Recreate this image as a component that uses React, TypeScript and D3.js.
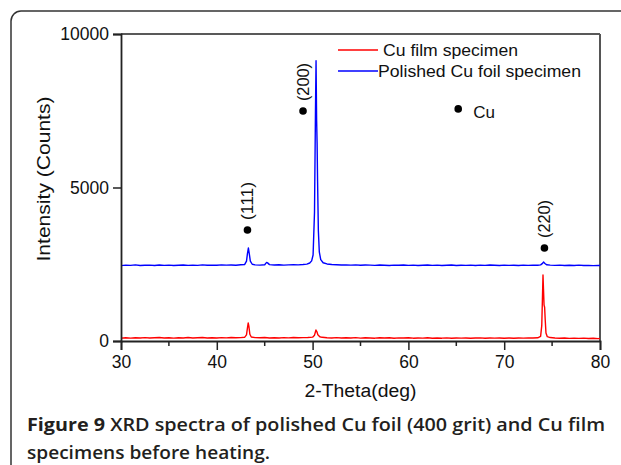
import React, { useEffect, useRef } from "react";
import * as d3 from "d3";

// Cu film specimen (red)
const filmTheta = [
  30, 30.5, 31, 31.5, 32, 32.5, 33, 33.5, 34, 34.5, 35, 35.5, 36, 36.5, 37, 37.5, 38, 38.5, 39, 39.5,
  40, 40.5, 41, 41.5, 42, 42.5, 42.9, 43.1, 43.2, 43.28, 43.35, 43.45, 43.6, 44, 44.5, 45, 45.5, 46,
  46.5, 47, 47.5, 48, 48.5, 49, 49.5, 50, 50.2, 50.35, 50.45, 50.55, 50.75, 51, 51.5, 52, 52.5, 53,
  53.5, 54, 54.5, 55, 55.5, 56, 56.5, 57, 57.5, 58, 58.5, 59, 59.5, 60, 60.5, 61, 61.5, 62, 62.5, 63,
  63.5, 64, 64.5, 65, 65.5, 66, 66.5, 67, 67.5, 68, 68.5, 69, 69.5, 70, 70.5, 71, 71.5, 72, 72.5, 73,
  73.5, 73.8, 73.92, 74.0, 74.05, 74.1, 74.16, 74.22, 74.28, 74.36, 74.5, 74.8, 75.3, 75.8, 76.3,
  76.8, 77.3, 77.8, 78.3, 78.8, 79.3, 79.8, 80,
];
const filmCounts = [
  95, 105, 92, 108, 98, 110, 96, 104, 112, 98, 106, 94, 108, 100, 112, 98, 106, 114, 100, 108,
  96, 110, 102, 114, 104, 110, 120, 200, 430, 590, 480, 220, 130, 110, 104, 112, 100, 108,
  98, 110, 102, 112, 104, 110, 114, 125, 190, 360, 300, 200, 140, 120, 108, 100, 110, 96,
  106, 98, 110, 94, 104, 100, 92, 106, 98, 104, 90, 102, 96, 106, 92, 100, 94, 104, 90, 98,
  92, 102, 88, 98, 94, 100, 88, 96, 102, 90, 98, 94, 100, 88, 96, 92, 100, 94, 102, 96,
  104, 150, 500, 1500, 2150, 1700, 1170, 1100, 700, 260, 140, 112, 100, 92, 98,
  86, 94, 84, 92, 80, 88, 78, 82,
];

// Polished Cu foil specimen (blue)
const foilTheta = [
  30, 30.5, 31, 31.5, 32, 32.5, 33, 33.5, 34, 34.5, 35, 35.5, 36, 36.5, 37, 37.5, 38, 38.5, 39, 39.5,
  40, 40.5, 41, 41.5, 42, 42.5, 42.9, 43.1, 43.2, 43.3, 43.4, 43.5, 43.7, 44, 44.5, 45, 45.2, 45.3,
  45.5, 46, 46.5, 47, 47.5, 48, 48.5, 49, 49.4, 49.7, 49.9, 50.05, 50.2, 50.3, 50.36, 50.42, 50.47,
  50.52, 50.6, 50.7, 50.85, 51.1, 51.5, 52, 52.5, 53, 53.5, 54, 54.5, 55, 55.5, 56, 56.5, 57, 57.5,
  58, 58.5, 59, 59.5, 60, 60.5, 61, 61.5, 62, 62.5, 63, 63.5, 64, 64.5, 65, 65.5, 66, 66.5, 67, 67.5,
  68, 68.5, 69, 69.5, 70, 70.5, 71, 71.5, 72, 72.5, 73, 73.5, 73.8, 74.0, 74.12, 74.25, 74.45, 74.8,
  75.3, 75.8, 76.3, 76.8, 77.3, 77.8, 78.3, 78.8, 79.3, 79.8, 80,
];
const foilCounts = [
  2455, 2470, 2462, 2478, 2458, 2466, 2472, 2460, 2475, 2463, 2470, 2458, 2468, 2476, 2462, 2470, 2465, 2478, 2468, 2472,
  2466, 2480, 2470, 2475, 2468, 2482, 2490, 2600, 2850, 3030, 2820, 2600, 2500, 2478, 2470, 2485, 2560, 2545,
  2488, 2475, 2482, 2470, 2478, 2485, 2480, 2492, 2505, 2540, 2610, 2800, 4200, 7500, 9130, 7200, 6450,
  5200, 3600, 2900, 2650, 2550, 2510, 2490, 2482, 2475, 2480, 2470, 2478, 2466, 2475, 2470, 2462, 2474, 2468,
  2460, 2472, 2466, 2476, 2462, 2470, 2458, 2468, 2474, 2462, 2470, 2458, 2466, 2475, 2460, 2468, 2464, 2472, 2460, 2470,
  2462, 2474, 2466, 2460, 2472, 2462, 2468, 2458, 2470, 2464, 2472, 2466, 2480, 2530, 2570, 2525, 2482, 2470,
  2462, 2470, 2458, 2466, 2460, 2470, 2458, 2464, 2456, 2462, 2458,
];

const seriesNames = ["Cu film specimen", "Polished Cu foil specimen"];
const seriesColors = ["#ff0000", "#0000ff"];

// Cu reflections
const peakLabels = ["(111)", "(200)", "(220)"];
const peakTheta = [43.2, 49.0, 74.2];
const peakMarkCounts = [3615, 7490, 3030];

const xTicks = [30, 40, 50, 60, 70, 80];
const xMinorTicks = [35, 45, 55, 65, 75];
const yTicks = [0, 5000, 10000];

const FONT = "'Liberation Sans', Arial, sans-serif";

const drawChart = (svgEl: SVGSVGElement) => {
  const svg = d3.select(svgEl);
  svg.selectAll("*").remove();

  const marginLeft = 121;
  const plotRight = 600;
  const plotTop = 34;
  const plotBottom = 341;

  const x = d3.scaleLinear().domain([30, 80]).range([marginLeft, plotRight]);
  const y = d3.scaleLinear().domain([0, 10000]).range([plotBottom, plotTop]);

  // outer figure box
  svg
    .append("rect")
    .attr("x", 11)
    .attr("y", 11)
    .attr("width", 700)
    .attr("height", 600)
    .attr("rx", 10)
    .attr("fill", "none")
    .attr("stroke", "#333")
    .attr("stroke-width", 1.5);

  // frame top + right
  svg
    .append("line")
    .attr("x1", marginLeft)
    .attr("x2", plotRight)
    .attr("y1", plotTop)
    .attr("y2", plotTop)
    .attr("stroke", "#222")
    .attr("stroke-width", 1.5);
  svg
    .append("line")
    .attr("x1", plotRight)
    .attr("x2", plotRight)
    .attr("y1", plotTop)
    .attr("y2", plotBottom)
    .attr("stroke", "#555")
    .attr("stroke-width", 2);

  const line = d3
    .line<[number, number]>()
    .x((d) => x(d[0]))
    .y((d) => y(d[1]));

  const film = filmTheta.map((t, i) => [t, filmCounts[i]] as [number, number]);
  const foil = foilTheta.map((t, i) => [t, foilCounts[i]] as [number, number]);

  [film, foil].forEach((data, i) => {
    svg
      .append("path")
      .datum(data)
      .attr("d", line)
      .attr("fill", "none")
      .attr("stroke", seriesColors[i])
      .attr("stroke-width", 1.4)
      .attr("stroke-linejoin", "round");
  });

  // x-axis
  const gx = svg
    .append("g")
    .attr("transform", `translate(0,${plotBottom})`)
    .call(
      d3
        .axisBottom(x)
        .tickValues(xTicks)
        .tickSize(9)
        .tickPadding(6)
        .tickFormat(d3.format("d"))
    );
  gx.append("g")
    .selectAll("line")
    .data(xMinorTicks)
    .enter()
    .append("line")
    .attr("x1", (d) => x(d))
    .attr("x2", (d) => x(d))
    .attr("y1", 0)
    .attr("y2", 5)
    .attr("stroke", "#222")
    .attr("stroke-width", 1.5);

  // y-axis
  const gy = svg
    .append("g")
    .attr("transform", `translate(${marginLeft},0)`)
    .call(
      d3
        .axisLeft(y)
        .tickValues(yTicks)
        .tickSize(8)
        .tickPadding(4)
        .tickFormat(d3.format("d"))
    );

  [gx, gy].forEach((g) => {
    g.select(".domain").attr("stroke", "#222").attr("stroke-width", 1.8);
    g.selectAll(".tick line").attr("stroke", "#222").attr("stroke-width", 1.5);
    g.selectAll(".tick text")
      .attr("fill", "#111")
      .attr("font-size", 17.5)
      .attr("font-family", FONT);
  });

  // axis titles
  svg
    .append("text")
    .attr("x", (marginLeft + plotRight) / 2)
    .attr("y", 397)
    .attr("text-anchor", "middle")
    .attr("font-size", 18)
    .attr("font-family", FONT)
    .attr("fill", "#111")
    .attr("textLength", 112)
    .attr("lengthAdjust", "spacingAndGlyphs")
    .text("2-Theta(deg)");
  svg
    .append("text")
    .attr("transform", `translate(50,179) rotate(-90)`)
    .attr("text-anchor", "middle")
    .attr("font-size", 18)
    .attr("font-family", FONT)
    .attr("fill", "#111")
    .attr("textLength", 165)
    .attr("lengthAdjust", "spacingAndGlyphs")
    .text("Intensity (Counts)");

  // reflection markers
  peakLabels.forEach((label, i) => {
    const px = x(peakTheta[i]);
    const py = y(peakMarkCounts[i]);
    svg.append("circle").attr("cx", px).attr("cy", py).attr("r", 3.8).attr("fill", "#000");
    svg
      .append("text")
      .attr("transform", `translate(${px + 5.5},${py - 10}) rotate(-90)`)
      .attr("font-size", 16)
      .attr("font-family", FONT)
      .attr("fill", "#111")
      .attr("textLength", 38)
      .attr("lengthAdjust", "spacingAndGlyphs")
      .text(label);
  });

  // legend
  const legendY = [50, 71];
  const legendTextX = [383, 378];
  const legendTextLen = [135, 203];
  seriesNames.forEach((name, i) => {
    svg
      .append("line")
      .attr("x1", 338)
      .attr("x2", 378)
      .attr("y1", legendY[i])
      .attr("y2", legendY[i])
      .attr("stroke", seriesColors[i])
      .attr("stroke-width", 1.4);
    svg
      .append("text")
      .attr("x", legendTextX[i])
      .attr("y", legendY[i] + 6)
      .attr("font-size", 16.5)
      .attr("font-family", FONT)
      .attr("fill", "#111")
      .attr("textLength", legendTextLen[i])
      .attr("lengthAdjust", "spacingAndGlyphs")
      .text(name);
  });

  // Cu symbol key
  svg.append("circle").attr("cx", x(65.2)).attr("cy", y(7560)).attr("r", 3.8).attr("fill", "#000");
  svg
    .append("text")
    .attr("x", x(65.2) + 15)
    .attr("y", y(7560) + 9)
    .attr("font-size", 17)
    .attr("font-family", FONT)
    .attr("fill", "#111")
    .text("Cu");

  // caption
  const caption = svg
    .append("text")
    .attr("x", 27)
    .attr("y", 431)
    .attr("font-size", 18)
    .attr("font-family", "'Open Sans', sans-serif")
    .attr("fill", "#231f20")
    .attr("textLength", 578)
    .attr("lengthAdjust", "spacingAndGlyphs");
  caption.append("tspan").attr("font-weight", 700).text("Figure 9");
  caption
    .append("tspan")
    .attr("font-weight", 600)
    .text(" XRD spectra of polished Cu foil (400 grit) and Cu film");
  svg
    .append("text")
    .attr("x", 27)
    .attr("y", 459)
    .attr("font-size", 18)
    .attr("font-family", "'Open Sans', sans-serif")
    .attr("font-weight", 600)
    .attr("fill", "#231f20")
    .attr("textLength", 243)
    .attr("lengthAdjust", "spacingAndGlyphs")
    .text("specimens before heating.");
};

export default function App() {
  const ref = useRef<SVGSVGElement>(null);

  useEffect(() => {
    if (ref.current) drawChart(ref.current);
  }, []);

  return (
    <svg
      ref={ref}
      width={621}
      height={465}
      style={{ position: "absolute", left: 0, top: 0, background: "#fff" }}
    />
  );
}
